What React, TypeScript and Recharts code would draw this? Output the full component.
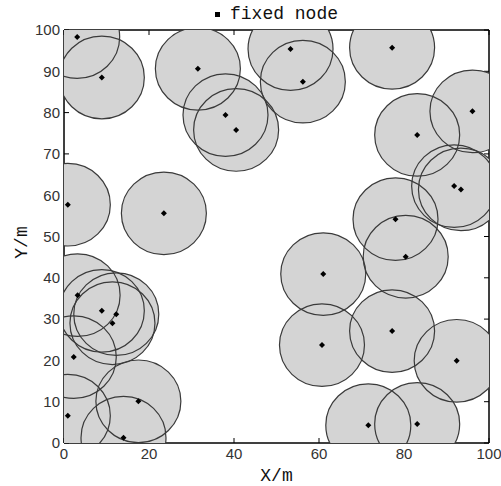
import React from "react"
import { ScatterChart, Scatter, XAxis, YAxis, Label, ReferenceArea } from "recharts"

// sensor node positions (m)
const nodeX = [3.1, 8.9, 31.5, 38.0, 40.5, 0.9, 23.5, 53.3, 56.2, 77.2, 96.1, 83.1, 91.8, 93.4, 78.0, 80.4, 61.0, 60.7, 77.2, 92.4, 71.6, 83.1, 3.2, 8.9, 12.3, 11.4, 2.3, 0.9, 17.5, 14.0]
const nodeY = [98.3, 88.5, 90.6, 79.4, 75.8, 57.7, 55.6, 95.4, 87.5, 95.7, 80.3, 74.6, 62.2, 61.4, 54.2, 45.1, 40.9, 23.7, 27.1, 19.9, 4.3, 4.6, 35.8, 32.0, 31.2, 29.0, 20.8, 6.6, 10.1, 1.3]
const sensingRadius = 10
const xTicks = [0, 20, 40, 60, 80, 100]
const yTicks = [0, 10, 20, 30, 40, 50, 60, 70, 80, 90, 100]

const WIDTH = 501
const HEIGHT = 486
const MARGIN = { top: 29, right: 11, bottom: 0, left: 0 }
const TOP_AXIS_H = 1
const RIGHT_AXIS_W = 1
const Y_AXIS_W = 64
const X_AXIS_H = 43
const PLOT_X = MARGIN.left + Y_AXIS_W
const PLOT_Y = MARGIN.top + TOP_AXIS_H
const PLOT_W = WIDTH - MARGIN.left - MARGIN.right - Y_AXIS_W - RIGHT_AXIS_W
const PLOT_H = HEIGHT - MARGIN.top - MARGIN.bottom - X_AXIS_H - TOP_AXIS_H

const rx = (sensingRadius / 100) * PLOT_W
const ry = (sensingRadius / 100) * PLOT_H

const nodes = nodeX.map((x, i) => ({ x, y: nodeY[i] }))

const tickFont = { fontFamily: "Liberation Sans, Arial, sans-serif", fontSize: 15, fill: "#333" }
const monoFont = "Liberation Mono, DejaVu Sans Mono, monospace"

// coverage discs are cut at the axes box: a nested svg viewport clips them
const PlotViewport = ({ children }: { children: React.ReactNode }) => (
  <svg
    x={PLOT_X}
    y={PLOT_Y}
    width={PLOT_W}
    height={PLOT_H}
    viewBox={`${PLOT_X} ${PLOT_Y} ${PLOT_W} ${PLOT_H}`}
    overflow="hidden"
  >
    {children}
  </svg>
)

const RangeFill = (props: any) => (
  <PlotViewport>
    <ellipse cx={props.cx} cy={props.cy} rx={rx} ry={ry} fill="#d4d4d4" stroke="none" />
  </PlotViewport>
)
const RangeEdge = (props: any) => (
  <PlotViewport>
    <ellipse cx={props.cx} cy={props.cy} rx={rx} ry={ry} fill="none" stroke="#3a3a3a" strokeWidth={1.2} />
  </PlotViewport>
)
const Diamond = (props: any) => {
  const { cx, cy } = props
  const s = 3
  return <polygon points={`${cx},${cy - s} ${cx + s},${cy} ${cx},${cy + s} ${cx - s},${cy}`} fill="#000" />
}
const Nothing = () => <g />

export default function App() {
  return (
    <div style={{ position: "absolute", left: 0, top: 0, width: WIDTH, height: HEIGHT, background: "#fff" }}>
      <div
        style={{
          position: "absolute",
          left: 215,
          top: 3,
          fontFamily: monoFont,
          fontSize: 18,
          color: "#111",
          display: "flex",
          alignItems: "center",
          gap: 10,
          lineHeight: "22px",
        }}
      >
        <span style={{ display: "inline-block", width: 5, height: 5, background: "#000" }} />
        <span>fixed node</span>
      </div>
      <ScatterChart width={WIDTH} height={HEIGHT} margin={MARGIN}>
        <XAxis
          type="number"
          dataKey="x"
          domain={[0, 100]}
          ticks={xTicks}
          allowDataOverflow
          height={X_AXIS_H}
          stroke="#000"
          tickSize={-5}
          tickMargin={10}
          tick={tickFont}
        >
          <Label
            content={({ viewBox }: any) => (
              <text
                x={viewBox.x + viewBox.width / 2}
                y={viewBox.y + 38}
                textAnchor="middle"
                fontFamily={monoFont}
                fontSize={18}
                fill="#111"
              >
                X/m
              </text>
            )}
          />
        </XAxis>
        <XAxis
          xAxisId="top"
          orientation="top"
          type="number"
          dataKey="x"
          domain={[0, 100]}
          ticks={xTicks}
          allowDataOverflow
          height={TOP_AXIS_H}
          stroke="#000"
          tickSize={-5}
          tickFormatter={() => ""}
        />
        <YAxis
          type="number"
          dataKey="y"
          domain={[0, 100]}
          ticks={yTicks}
          allowDataOverflow
          width={Y_AXIS_W}
          stroke="#000"
          tickSize={-5}
          tickMargin={9}
          tick={tickFont}
        >
          <Label
            content={({ viewBox }: any) => {
              const lx = viewBox.x + 22
              const ly = viewBox.y + viewBox.height / 2 + 6
              return (
                <text
                  x={lx}
                  y={ly}
                  transform={`rotate(-90 ${lx} ${ly})`}
                  textAnchor="middle"
                  dominantBaseline="middle"
                  fontFamily={monoFont}
                  fontSize={18}
                  fill="#111"
                >
                  Y/m
                </text>
              )
            }}
          />
        </YAxis>
        <YAxis
          yAxisId="right"
          orientation="right"
          type="number"
          dataKey="y"
          domain={[0, 100]}
          ticks={yTicks}
          allowDataOverflow
          width={RIGHT_AXIS_W}
          stroke="#000"
          tickSize={-5}
          tickFormatter={() => ""}
        />
        <Scatter data={nodes} shape={RangeFill} legendType="none" isAnimationActive={false} />
        <Scatter data={nodes} shape={RangeEdge} legendType="none" isAnimationActive={false} />
        <Scatter name="fixed node" data={nodes} shape={Diamond} isAnimationActive={false} />
        {/* binds the top/right axes so they are laid out */}
        <Scatter
          data={nodes}
          xAxisId="top"
          yAxisId="right"
          shape={Nothing}
          legendType="none"
          isAnimationActive={false}
        />
        {/* axes box */}
        <ReferenceArea x1={0} x2={100} y1={0} y2={100} fill="none" stroke="#000" strokeWidth={1} ifOverflow="visible" />
      </ScatterChart>
    </div>
  )
}
